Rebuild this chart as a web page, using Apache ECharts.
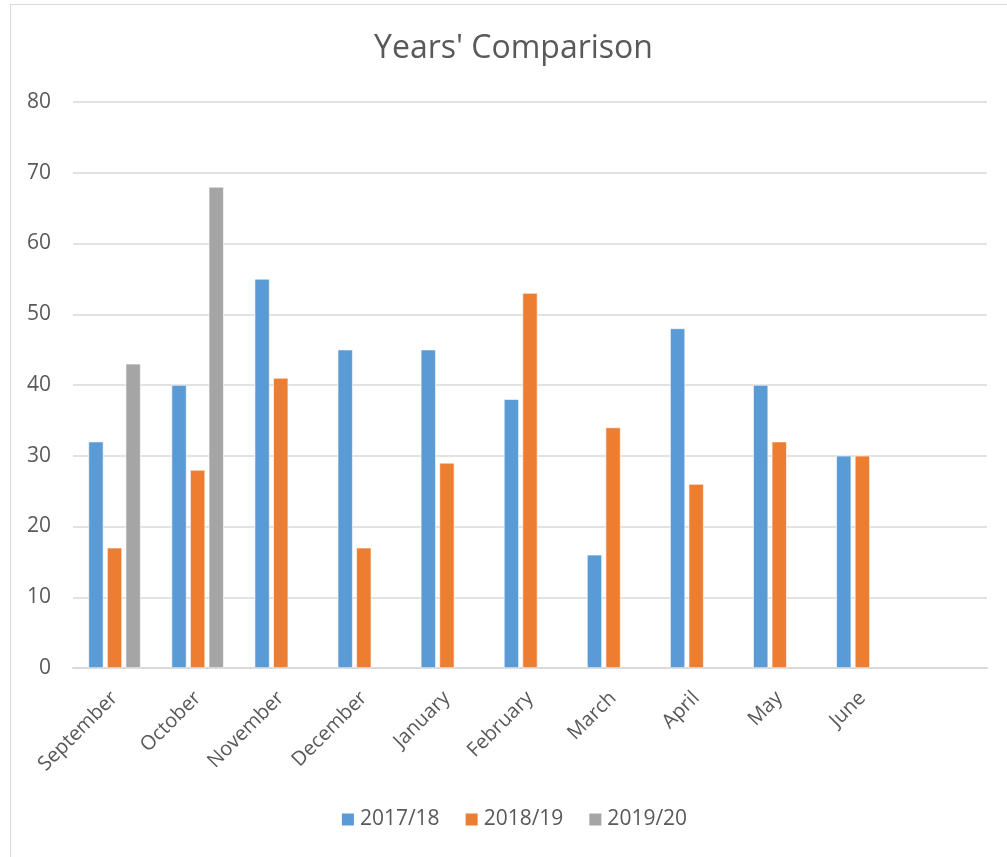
<!DOCTYPE html>
<html>
<head>
<meta charset="utf-8">
<script src="https://cdn.jsdelivr.net/npm/echarts@6/dist/echarts.min.js"></script>
<style>
  html, body { margin: 0; padding: 0; background: #fff; overflow: hidden; }
  #frame { position: absolute; left: 10px; top: 4px; width: 1100px; height: 900px; border: 1px solid #d9d9d9; box-sizing: border-box; }
  #main { position: absolute; left: 0; top: 0; width: 1027px; height: 857px; }
</style>
</head>
<body>
<div id="frame"></div>
<div id="main"></div>
<script>
// months, last slot is empty like in the source sheet
const months = ['September', 'October', 'November', 'December', 'January', 'February', 'March', 'April', 'May', 'June', ''];
const y1718 = [32, 40, 55, 45, 45, 38, 16, 48, 40, 30, null];
const y1819 = [17, 28, 41, 17, 29, 53, 34, 26, 32, 30, null];
const y1920 = [43, 68, null, null, null, null, null, null, null, null, null];
const yTicks = [0, 10, 20, 30, 40, 50, 60, 70, 80];

const font = '"Open Sans", "Noto Sans", sans-serif';
const txt = '#595959';

let myChart = echarts.init(document.getElementById('main'));

const bar = (name, data, color) => ({
  name: name,
  type: 'bar',
  data: data,
  barWidth: 15,
  barGap: '24%',
  itemStyle: { color: color, borderColor: '#fff', borderWidth: 0.6 }
});

myChart.setOption({
  animation: false,
  title: {
    text: "Years' Comparison",
    left: 'center',
    top: 28,
    textStyle: { fontFamily: font, fontSize: 32, fontWeight: 'normal', color: txt }
  },
  legend: {
    bottom: 22,
    left: 'center',
    itemWidth: 14,
    itemHeight: 14,
    itemGap: 24,
    icon: 'rect',
    textStyle: { fontFamily: font, fontSize: 21, color: txt }
  },
  grid: { left: 73, right: 40, top: 102, bottom: 189, containLabel: false },
  xAxis: {
    type: 'category',
    data: months,
    axisLine: { lineStyle: { color: '#d9d9d9', width: 2 } },
    axisTick: { show: false },
    axisLabel: { rotate: 45, fontFamily: font, fontSize: 20, color: txt, margin: 27, interval: 0 }
  },
  yAxis: {
    type: 'value',
    min: yTicks[0],
    max: yTicks[yTicks.length - 1],
    interval: 10,
    axisLine: { show: false },
    axisTick: { show: false },
    splitLine: { lineStyle: { color: '#d9d9d9', width: 1.5 } },
    axisLabel: { fontFamily: font, fontSize: 21, color: txt, margin: 22 }
  },
  series: [
    bar('2017/18', y1718, '#5b9bd5'),
    bar('2018/19', y1819, '#ed7d31'),
    bar('2019/20', y1920, '#a5a5a5')
  ]
});
</script>
</body>
</html>
